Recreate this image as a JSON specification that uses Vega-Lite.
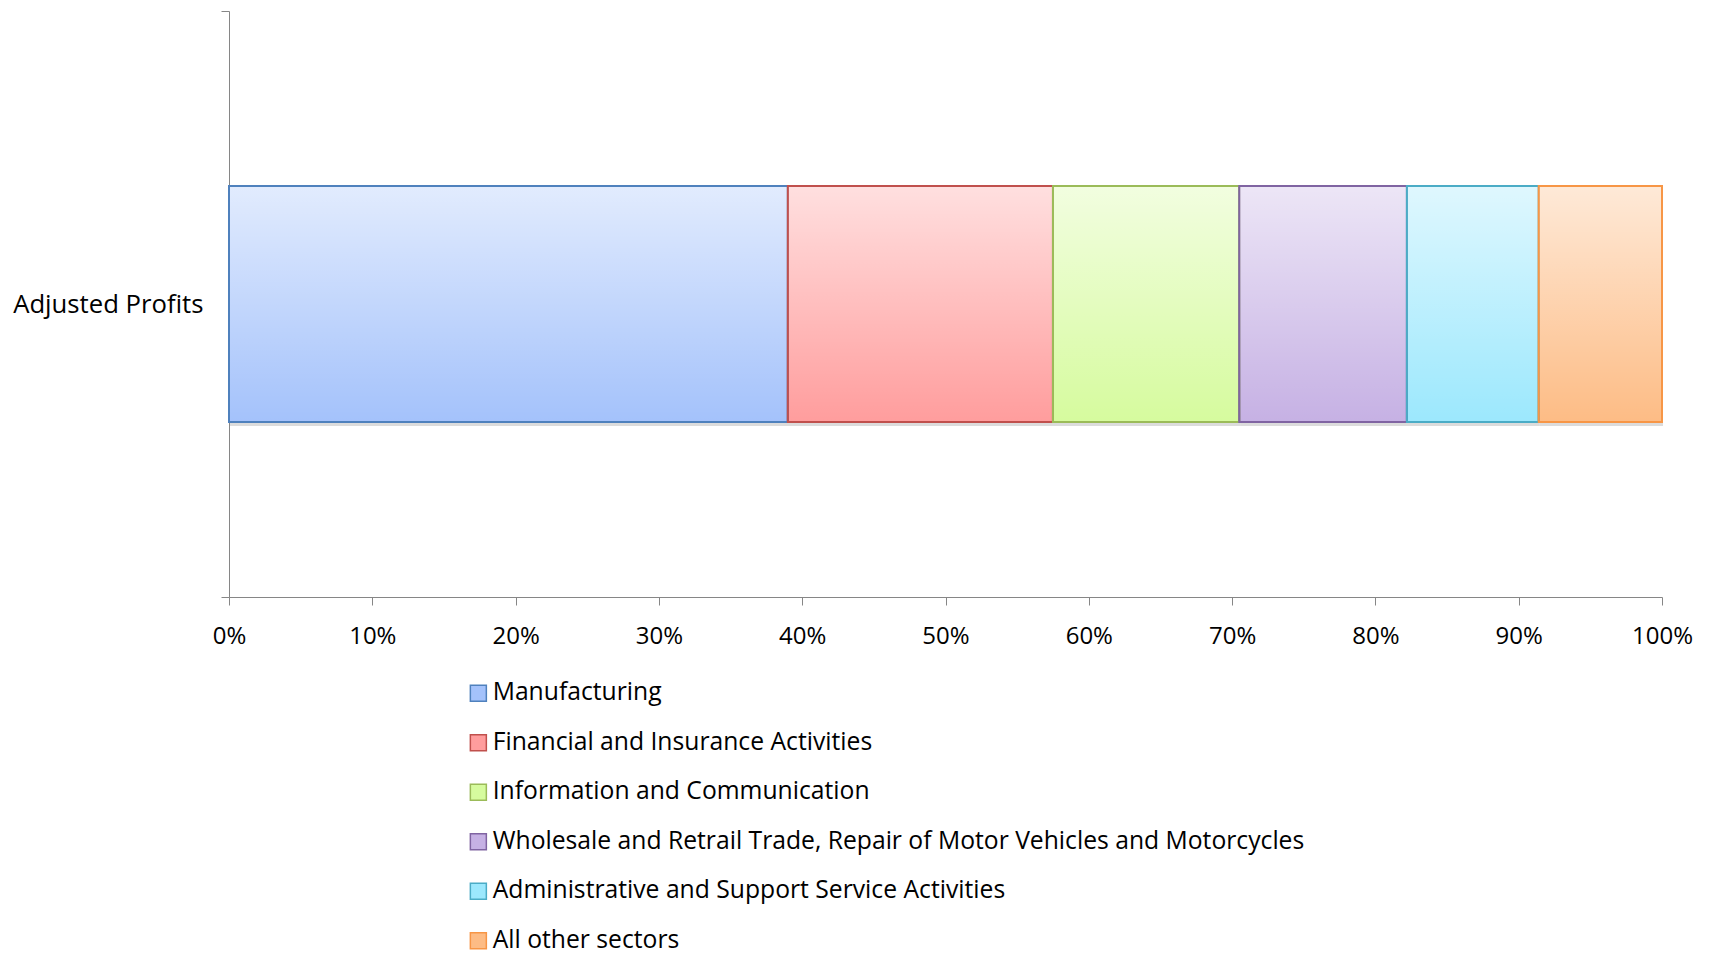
{
  "$schema": "https://vega.github.io/schema/vega-lite/v6.json",
  "width": 1433,
  "height": 586,
  "autosize": {"type": "none"},
  "padding": {"left": 229, "top": 11, "right": 47, "bottom": 356},
  "background": "white",
  "config": {
    "font": "Open Sans",
    "view": {"stroke": null}
  },
  "data": {
    "values": [
      {"measure": "Adjusted Profits", "sector": "Manufacturing", "order": 1, "share": 39.0},
      {"measure": "Adjusted Profits", "sector": "Financial and Insurance Activities", "order": 2, "share": 18.5},
      {"measure": "Adjusted Profits", "sector": "Information and Communication", "order": 3, "share": 13.0},
      {"measure": "Adjusted Profits", "sector": "Wholesale and Retrail Trade, Repair of Motor Vehicles and Motorcycles", "order": 4, "share": 11.7},
      {"measure": "Adjusted Profits", "sector": "Administrative and Support Service Activities", "order": 5, "share": 9.2},
      {"measure": "Adjusted Profits", "sector": "All other sectors", "order": 6, "share": 8.6}
    ]
  },
  "encoding": {
    "y": {
      "field": "measure",
      "type": "nominal",
      "scale": {"paddingInner": 0, "paddingOuter": 0},
      "axis": {
        "title": null,
        "tickBand": "extent",
        "domainColor": "#868686",
        "tickColor": "#868686",
        "tickSize": 8,
        "labelFontSize": 25.7,
        "labelColor": "#000000",
        "labelPadding": 18,
        "labelFont": "Open Sans",
        "labelLimit": 400
      }
    },
    "x": {
      "field": "share",
      "type": "quantitative",
      "stack": "normalize",
      "scale": {"domain": [0, 1], "nice": false},
      "axis": {
        "title": null,
        "values": [0, 0.1, 0.2, 0.3, 0.4, 0.5, 0.6, 0.7, 0.8, 0.9, 1],
        "format": ".0%",
        "grid": false,
        "domainColor": "#868686",
        "tickColor": "#868686",
        "tickSize": 8,
        "labelFontSize": 24,
        "labelColor": "#000000",
        "labelPadding": 19,
        "labelFont": "Open Sans",
        "labelOverlap": false,
        "labelFlush": false
      }
    },
    "order": {"field": "order", "type": "quantitative"}
  },
  "layer": [
    {
      "mark": {"type": "bar", "size": 236, "yOffset": 4, "xOffset": 1, "fill": "#9a9a9a", "opacity": 0.35, "strokeWidth": 0},
      "encoding": {}
    },
    {
      "mark": {"type": "bar", "size": 236, "strokeWidth": 2},
      "encoding": {
        "fill": {
          "field": "sector",
          "type": "nominal",
          "sort": {"field": "order"},
          "scale": {
            "domain": ["Manufacturing", "Financial and Insurance Activities", "Information and Communication", "Wholesale and Retrail Trade, Repair of Motor Vehicles and Motorcycles", "Administrative and Support Service Activities", "All other sectors"],
            "range": ["#a4c2fb", "#ff9d9d", "#d6fb9e", "#c6b1e4", "#9ce8fd", "#fdbc85"]
          },
          "legend": {
            "title": null,
            "orient": "none",
            "legendX": 237,
            "legendY": 670,
            "direction": "vertical",
            "symbolType": "square",
            "symbolSize": 256,
            "symbolStrokeWidth": 1.5,
            "labelFontSize": 24.7,
            "labelFont": "Open Sans",
            "labelColor": "#000000",
            "labelLimit": 1200,
            "rowPadding": 23.5,
            "labelOffset": 2
          }
        },
        "stroke": {
          "field": "sector",
          "type": "nominal",
          "sort": {"field": "order"},
          "scale": {
            "domain": ["Manufacturing", "Financial and Insurance Activities", "Information and Communication", "Wholesale and Retrail Trade, Repair of Motor Vehicles and Motorcycles", "Administrative and Support Service Activities", "All other sectors"],
            "range": ["#4f81bd", "#c0504d", "#9bbb59", "#8064a2", "#4bacc6", "#f79646"]
          }
        }
      }
    },
    {
      "mark": {
        "type": "bar",
        "size": 236,
        "strokeWidth": 2,
        "fill": {
          "gradient": "linear",
          "x1": 0, "y1": 0, "x2": 0, "y2": 1,
          "stops": [
            {"offset": 0, "color": "rgba(255,255,255,0.68)"},
            {"offset": 1, "color": "rgba(255,255,255,0)"}
          ]
        }
      },
      "encoding": {
        "stroke": {
          "field": "sector",
          "type": "nominal",
          "sort": {"field": "order"}
        }
      }
    }
  ]
}
